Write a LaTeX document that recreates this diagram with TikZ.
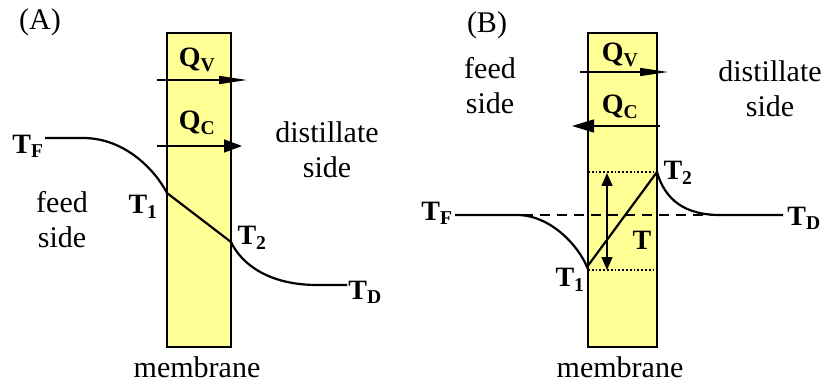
\documentclass[tikz,border=0pt]{standalone}
\usepackage{fontspec}
\setmainfont{Liberation Serif}
\usetikzlibrary{arrows.meta}
\definecolor{giallo}{RGB}{255,255,150}
\tikzset{
  membrana/.style = {draw, line width=1.5pt, fill=giallo, inner sep=0},
  curva/.style    = {line width=2.2pt},
  flusso/.style   = {line width=1.5pt},
  punti/.style    = {line width=1.8pt, dotted},
  tratti/.style   = {line width=2.2pt, dash pattern=on 10pt off 7pt},
  et/.style       = {font=\fontsize{30}{35}\selectfont, inner sep=0, align=center},
  tb/.style       = {font=\fontsize{28}{35}\selectfont\bfseries, inner sep=0}
}
\newcommand{\Tlab}[1]{T\textsubscript{#1}}

\begin{document}
\begin{tikzpicture}[x=1pt, y=-1pt]
  \useasboundingbox (0,0) rectangle (825,385);

  % (A)
  \node[membrana, minimum width=64pt, minimum height=314pt] (memA) at (199,190) {};
  \node[et] (labA) at (40,22) {(A)};

  \coordinate (A-F)  at (45,138);  \coordinate (A-F2) at (83,138);
  \coordinate (A-1)  at (167,193); \coordinate (A-2)  at (231,242);
  \coordinate (A-D2) at (317,285); \coordinate (A-D)  at (347,285);
  \draw[curva] (A-F) -- (A-F2) .. controls (125,138) and (155,170) .. (A-1) -- (A-2)
               .. controls (242,265) and (270,285) .. (A-D2) -- (A-D);

  \coordinate (qvA-s) at (157,80);  \coordinate (qvA-e) at (247,80);
  \coordinate (qcA-s) at (157,146); \coordinate (qcA-e) at (242,146);
  \draw[flusso, -{Triangle[length=28pt, width=8pt]}] (qvA-s) -- (qvA-e);
  \draw[flusso, -{Triangle[length=18pt, width=13pt]}] (qcA-s) -- (qcA-e);

  \node[tb] (qvA) at (197,60)  {Q\textsubscript{V}};
  \node[tb] (qcA) at (197,123) {Q\textsubscript{C}};
  \node[tb] (tfA) at (28,146)  {\Tlab{F}};
  \node[tb] (t1A) at (143,207) {\Tlab{1}};
  \node[tb] (t2A) at (252,238) {\Tlab{2}};
  \node[tb] (tdA) at (365,292) {\Tlab{D}};
  \node[et] (feedA) at (62,220)  {feed\\side};
  \node[et] (distA) at (327,150) {distillate\\side};
  \node[et, anchor=base] (membA) at (197,377) {membrane};

  % (B)
  \node[membrana, minimum width=69pt, minimum height=314pt] (memB) at (622.5,190) {};
  \node[et] (labB) at (487,25) {(B)};

  \coordinate (B-F)  at (455,215); \coordinate (B-F2) at (517,215);
  \coordinate (B-1)  at (587,267); \coordinate (B-2)  at (657,172);
  \coordinate (B-D2) at (720,215); \coordinate (B-D)  at (783,215);
  \coordinate (dl1) at (588,172);  \coordinate (dr1) at (657,172);
  \coordinate (dl2) at (588,270);  \coordinate (dr2) at (657,270);
  \draw[punti] (dl1) -- (dr1);
  \draw[punti] (dl2) -- (dr2);
  \draw[tratti] (B-F) -- (B-D);
  \draw[curva] (B-F) -- (B-F2) .. controls (550,215) and (578,245) .. (B-1) -- (B-2)
               .. controls (665,200) and (685,215) .. (B-D2) -- (B-D);

  \coordinate (dT-a) at (607,173); \coordinate (dT-b) at (607,270);
  \draw[flusso, {Triangle[length=13pt, width=11pt]}-{Triangle[length=13pt, width=11pt]}] (dT-a) -- (dT-b);

  \coordinate (qvB-s) at (580,72);  \coordinate (qvB-e) at (668,72);
  \coordinate (qcB-s) at (660,126); \coordinate (qcB-e) at (572,126);
  \draw[flusso, -{Triangle[length=28pt, width=8pt]}] (qvB-s) -- (qvB-e);
  \draw[flusso, -{Triangle[length=22pt, width=13pt]}] (qcB-s) -- (qcB-e);

  \node[tb] (qvB) at (620,55)  {Q\textsubscript{V}};
  \node[tb] (qcB) at (620,107) {Q\textsubscript{C}};
  \node[tb] (tfB) at (437,213) {\Tlab{F}};
  \node[tb] (t1B) at (570,280) {\Tlab{1}};
  \node[tb] (t2B) at (678,173) {\Tlab{2}};
  \node[tb] (tdB) at (804,218) {\Tlab{D}};
  \node[tb] (dTB) at (642,240) {T};
  \node[et] (feedB) at (490,86)  {feed\\side};
  \node[et] (distB) at (770,89)  {distillate\\side};
  \node[et, anchor=base] (membB) at (620,377) {membrane};
\end{tikzpicture}
\end{document}
